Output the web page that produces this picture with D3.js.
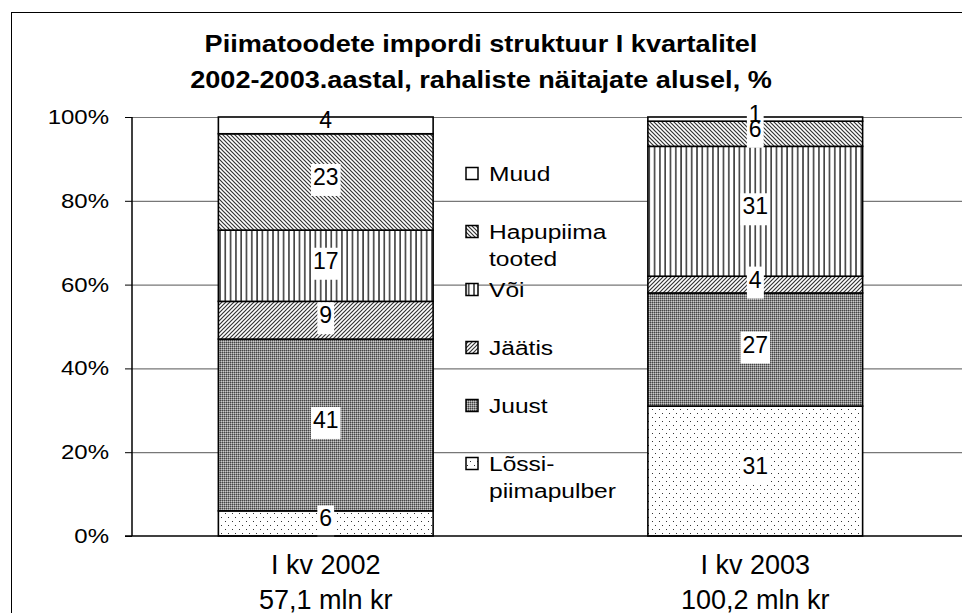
<!DOCTYPE html>
<html>
<head>
<meta charset="utf-8">
<script src="https://cdn.jsdelivr.net/npm/d3@7"></script>
<style>
  body { margin: 0; background: #fff; }
  svg { display: block; font-family: 'Liberation Sans', Arial, sans-serif; }
</style>
</head>
<body>
<svg width="962" height="613"></svg>
<script>
// data (percent of import value)
const categories = ['I kv 2002', 'I kv 2003'];
const totals = ['57,1 mln kr', '100,2 mln kr'];
const seriesKeys = ['lossi', 'juust', 'jaatis', 'voi', 'hapupiima', 'muud'];
const legendLabels = [['Lõssi-', 'piimapulber'], ['Juust'], ['Jäätis'], ['Või'], ['Hapupiima', 'tooted'], ['Muud']];
const lossi = [6, 31];
const juust = [41, 27];
const jaatis = [9, 4];
const voi = [17, 31];
const hapupiima = [23, 6];
const muud = [4, 1];
const yTicks = [0, 20, 40, 60, 80, 100];

const svg = d3.select('svg');
const width = +svg.attr('width');
const height = +svg.attr('height');

const plot = { left: 132, top: 117, bottom: 536, right: 962 };

const rows = categories.map((c, i) => ({
    cat: c, lossi: lossi[i], juust: juust[i], jaatis: jaatis[i],
    voi: voi[i], hapupiima: hapupiima[i], muud: muud[i]
}));
const stacked = d3.stack().keys(seriesKeys)(rows);

const y = d3.scaleLinear().domain([0, 100]).range([plot.bottom, plot.top]);
const x = d3.scaleBand().domain(categories).range([111, 970])
    .paddingInner(0.5).paddingOuter(0.25);

// fill patterns
const defs = svg.append('defs');
const pat = (id, w, h) => defs.append('pattern').attr('id', id)
    .attr('patternUnits', 'userSpaceOnUse').attr('width', w).attr('height', h);

pat('p-muud', 4, 4).append('rect').attr('width', 4).attr('height', 4).attr('fill', '#fff');

const hp = pat('p-hapupiima', 4, 4);
hp.append('rect').attr('width', 4).attr('height', 4).attr('fill', '#fff');
hp.append('path').attr('d', 'M-1,-1 L5,5 M-1,3 L1,5 M3,-1 L5,1')
    .attr('stroke', '#333').attr('stroke-width', 1.2);

const vp = pat('p-voi', 5.3, 4);
vp.append('rect').attr('width', 5.3).attr('height', 4).attr('fill', '#fff');
vp.append('rect').attr('x', 2).attr('width', 1.4).attr('height', 4).attr('fill', '#222');

const jp = pat('p-jaatis', 4, 4);
jp.append('rect').attr('width', 4).attr('height', 4).attr('fill', '#fff');
jp.append('path').attr('d', 'M-1,5 L5,-1 M-1,1 L1,-1 M3,5 L5,3')
    .attr('stroke', '#333').attr('stroke-width', 1.2);

const up = pat('p-juust', 2, 2);
up.append('rect').attr('width', 2).attr('height', 2).attr('fill', '#8a8a8a');
up.append('rect').attr('width', 1).attr('height', 1).attr('fill', '#444');
up.append('rect').attr('x', 1).attr('y', 1).attr('width', 1).attr('height', 1).attr('fill', '#c8c8c8');

const lp = pat('p-lossi', 7, 8);
lp.append('rect').attr('width', 7).attr('height', 8).attr('fill', '#fff');
lp.append('rect').attr('x', 1).attr('y', 1).attr('width', 1).attr('height', 1).attr('fill', '#333');
lp.append('rect').attr('x', 4).attr('y', 5).attr('width', 1).attr('height', 1).attr('fill', '#333');

// outer frame
svg.append('rect')
    .attr('x', 11.5).attr('y', 12.5)
    .attr('width', width).attr('height', height)
    .attr('fill', 'none').attr('stroke', '#000');

// title
const title = svg.append('text')
    .attr('text-anchor', 'middle')
    .attr('font-weight', 'bold')
    .attr('font-size', 24)
    .attr('transform', `translate(481,0) scale(1.13,1)`);
title.append('tspan').attr('x', 0).attr('y', 52).text('Piimatoodete impordi struktuur I kvartalitel');
title.append('tspan').attr('x', 0).attr('y', 88).text('2002-2003.aastal, rahaliste näitajate alusel, %');

// gridlines
const grid = svg.append('g').attr('transform', `translate(${plot.left},0)`)
    .call(d3.axisRight(y).tickValues(yTicks.filter(d => d > 0))
        .tickSize(plot.right - plot.left).tickFormat(''));
grid.select('.domain').remove();
grid.selectAll('.tick line').attr('stroke', '#777').attr('stroke-width', 1.2);

// bars
const layer = svg.append('g').selectAll('g').data(stacked).join('g')
    .attr('fill', d => `url(#p-${d.key})`);

layer.selectAll('rect').data(d => d).join('rect')
    .attr('x', d => x(d.data.cat))
    .attr('y', d => y(d[1]))
    .attr('width', x.bandwidth())
    .attr('height', d => y(d[0]) - y(d[1]))
    .attr('stroke', '#000')
    .attr('stroke-width', 1.6);

// value labels with white boxes
const labels = [];
stacked.forEach(s => s.forEach(d => labels.push({ key: s.key, v: d.data[s.key], cat: d.data.cat, mid: (d[0] + d[1]) / 2 })));

const lab = svg.append('g').selectAll('g').data(labels).join('g')
    .attr('transform', d => `translate(${x(d.cat) + x.bandwidth() / 2},${y(d.mid)})`);
lab.append('rect').attr('class', 'bg').attr('fill', '#fff');
lab.append('text')
    .attr('text-anchor', 'middle')
    .attr('y', -5)
    .attr('dy', '0.35em')
    .attr('font-size', 23)
    .text(d => d.v);
lab.each(function () {
    const g = d3.select(this);
    const b = g.select('text').node().getBBox();
    g.select('.bg')
        .attr('x', b.x - 2).attr('y', -18)
        .attr('width', b.width + 4).attr('height', 32);
});
// the white top segments need no box
lab.filter(d => d.key === 'muud').select('.bg').remove();

// y axis
const yAxis = svg.append('g').attr('transform', `translate(${plot.left},0)`)
    .call(d3.axisLeft(y).tickValues(yTicks).tickFormat(d => d + '%').tickSize(7));
yAxis.select('.domain').attr('stroke', '#000').attr('stroke-width', 1.5)
    .attr('d', `M0,${plot.top}V${plot.bottom}`);
yAxis.selectAll('.tick line').attr('stroke', '#000');
yAxis.selectAll('.tick text')
    .attr('x', 0)
    .attr('font-size', 20).attr('fill', '#000')
    .attr('font-family', 'Liberation Sans, Arial, sans-serif')
    .attr('transform', 'translate(-23,0) scale(1.2,1)');

// category axis line
svg.append('line')
    .attr('x1', plot.left - 7).attr('x2', plot.right)
    .attr('y1', plot.bottom).attr('y2', plot.bottom)
    .attr('stroke', '#000').attr('stroke-width', 1.5);

const catLab = svg.append('g').selectAll('text').data(categories).join('text')
    .attr('text-anchor', 'middle')
    .attr('font-size', 27)
    .attr('transform', d => `translate(${x(d) + x.bandwidth() / 2},0)`);
catLab.append('tspan').attr('x', 0).attr('y', 574).text(d => d);
catLab.append('tspan').attr('x', 0).attr('y', 609).text((d, i) => totals[i]);

// legend (top entry first)
const legendY = d3.scalePoint().domain(seriesKeys.slice().reverse()).range([174, 464]);
const leg = svg.append('g').selectAll('g').data(seriesKeys).join('g')
    .attr('transform', k => `translate(466,${legendY(k)})`);
leg.append('rect')
    .attr('x', 0).attr('y', -6.5).attr('width', 12).attr('height', 12)
    .attr('fill', k => `url(#p-${k})`)
    .attr('stroke', '#000').attr('stroke-width', 1.5);
const legText = leg.append('text')
    .attr('font-size', 21)
    .attr('transform', 'translate(23,7) scale(1.17,1)');
legText.selectAll('tspan').data((k, i) => legendLabels[i]).join('tspan')
    .attr('x', 0).attr('dy', (d, i) => i === 0 ? 0 : 27)
    .text(d => d);
</script>
</body>
</html>
